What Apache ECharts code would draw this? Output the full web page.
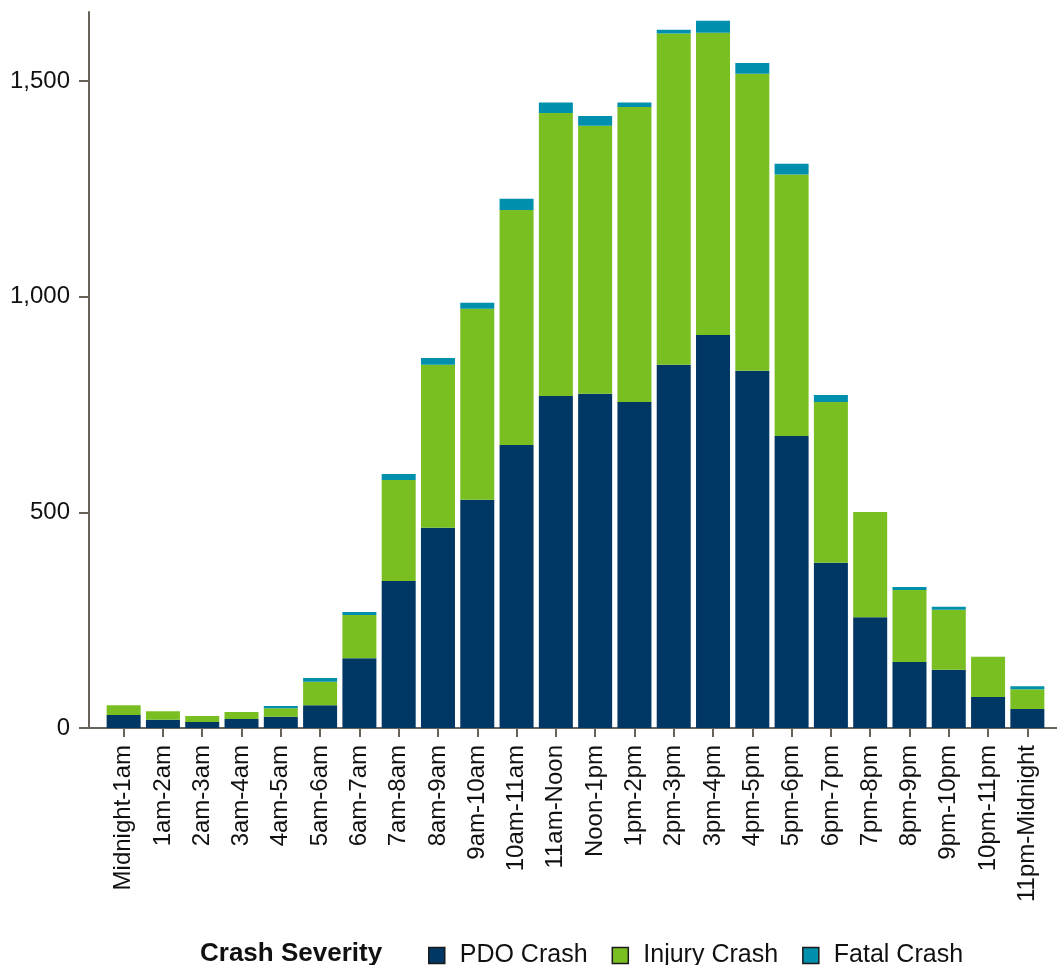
<!DOCTYPE html>
<html>
<head>
<meta charset="utf-8">
<script src="https://cdn.jsdelivr.net/npm/echarts@6/dist/echarts.min.js"></script>
<style>
html,body{margin:0;padding:0;background:#fff;}
#chart{width:1057px;height:965px;}
</style>
</head>
<body>
<div id="chart"></div>
<script>
const categories = ["Midnight-1am","1am-2am","2am-3am","3am-4am","4am-5am","5am-6am","6am-7am","7am-8am","8am-9am","9am-10am","10am-11am","11am-Noon","Noon-1pm","1pm-2pm","2pm-3pm","3pm-4pm","4pm-5pm","5pm-6pm","6pm-7pm","7pm-8pm","8pm-9pm","9pm-10pm","10pm-11pm","11pm-Midnight"];
const pdoCrash    = [30,19,14,21,26,53,162,341,464,529,656,770,775,756,842,911,828,677,383,257,153,135,72,44];
const injuryCrash = [23,20,14,16,20,54,100,234,378,443,545,656,621,684,768,701,689,606,373,244,167,139,93,46];
const fatalCrash  = [0,0,0,0,5,9,7,14,16,14,26,24,23,10,9,28,25,25,16,0,7,7,0,7];
const yTicks = [0,500,1000,1500];
const seriesNames = ["PDO Crash","Injury Crash","Fatal Crash"];
const legendTitle = "Crash Severity";

const FONT = "'Liberation Sans', Arial, sans-serif";
const AXIS_COLOR = "#67625a";
const colors = ["#003764","#7abf21","#008fac"];
const Y_MAX = 1660;

const chart = echarts.init(document.getElementById('chart'), null, {renderer:'canvas'});
const mk = (name, data, i) => ({
  name, type:'bar', stack:'total', data,
  xAxisIndex:0, yAxisIndex:0,
  barWidth:34,
  itemStyle:{color:colors[i]},
  emphasis:{disabled:true}
});
chart.setOption({
  animation:false,
  textStyle:{fontFamily:FONT},
  title:{
    text:legendTitle, left:195, top:936,
    textStyle:{fontFamily:FONT, fontSize:26, fontWeight:'bold', color:'#111'}
  },
  legend:{
    left:423, top:938,
    itemWidth:16, itemHeight:16, itemGap:24,
    icon:'rect',
    itemStyle:{borderColor:'#1a1a1a', borderWidth:1.5},
    textStyle:{fontFamily:FONT, fontSize:25, color:'#111', padding:[0,0,0,10]},
    data:seriesNames
  },
  grid:[
    {left:104, right:10, top:12, bottom:237},
    {left:89, right:0, top:12, bottom:237}
  ],
  xAxis:[
    {
      type:'category', gridIndex:0, data:categories,
      axisLine:{show:false},
      axisTick:{show:true, alignWithLabel:true, length:9, lineStyle:{color:AXIS_COLOR, width:2}},
      axisLabel:{rotate:90, margin:17, fontFamily:FONT, fontSize:24, color:'#111', interval:0}
    },
    {
      type:'value', gridIndex:1, min:0, max:1,
      axisLine:{show:true, lineStyle:{color:AXIS_COLOR, width:2}},
      axisTick:{show:false}, axisLabel:{show:false}, splitLine:{show:false}
    }
  ],
  yAxis:[
    {
      type:'value', gridIndex:0, min:0, max:Y_MAX,
      show:false
    },
    {
      type:'value', gridIndex:1, min:0, max:Y_MAX, interval:500,
      axisLine:{show:true, lineStyle:{color:AXIS_COLOR, width:2}},
      axisTick:{show:true, length:10, lineStyle:{color:AXIS_COLOR, width:2}, customValues:yTicks},
      axisLabel:{margin:19, fontFamily:FONT, fontSize:24, color:'#111', customValues:yTicks,
        formatter:v=>v.toLocaleString('en-US')},
      splitLine:{show:false}
    }
  ],
  series:[
    mk(seriesNames[0], pdoCrash, 0),
    mk(seriesNames[1], injuryCrash, 1),
    mk(seriesNames[2], fatalCrash, 2)
  ]
});
</script>
</body>
</html>
